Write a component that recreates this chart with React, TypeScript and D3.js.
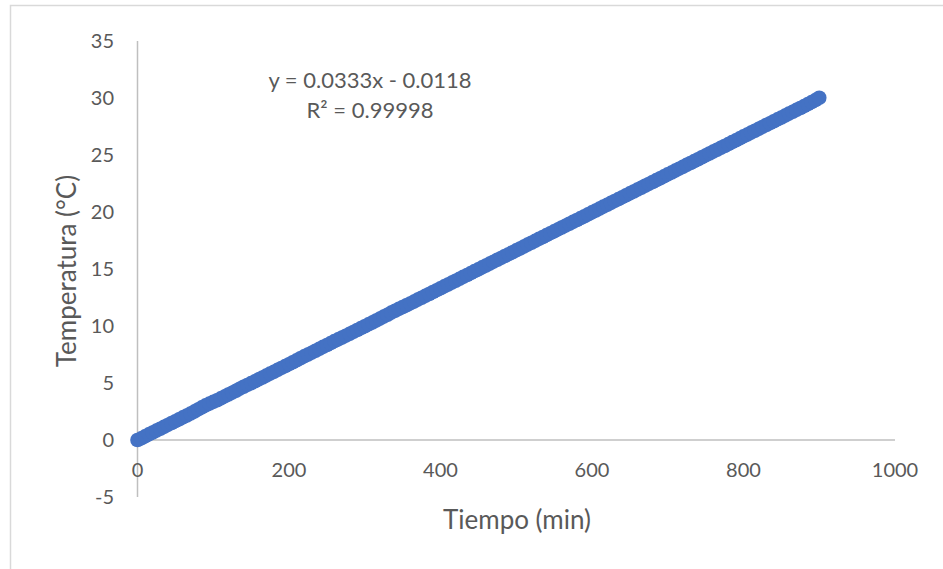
import React from "react";
import * as d3 from "d3";

const timeMin: number[] = d3.range(0, 901, 5);
const tempC: number[] = [
  0.0, 0.15, 0.32, 0.49, 0.66, 0.82, 0.99, 1.15, 1.32, 1.49, 1.65, 1.82, 1.99, 2.15, 2.32, 2.49, 2.68, 2.86, 3.04, 3.19,
  3.34, 3.49, 3.65, 3.82, 3.99, 4.15, 4.32, 4.5, 4.67, 4.83, 4.99, 5.15, 5.32, 5.48, 5.65, 5.82, 5.98, 6.15, 6.32, 6.48,
  6.65, 6.82, 6.99, 7.17, 7.34, 7.5, 7.66, 7.83, 8.0, 8.17, 8.33, 8.5, 8.67, 8.83, 8.99, 9.15, 9.31, 9.48, 9.65, 9.81,
  9.98, 10.15, 10.31, 10.48, 10.65, 10.82, 10.99, 11.17, 11.34, 11.5, 11.66, 11.82, 11.98, 12.14, 12.31, 12.48, 12.64, 12.81, 12.98, 13.14,
  13.31, 13.48, 13.64, 13.81, 13.97, 14.14, 14.31, 14.47, 14.64, 14.81, 14.97, 15.14, 15.31, 15.47, 15.64, 15.81, 15.97, 16.14, 16.3, 16.47,
  16.64, 16.8, 16.97, 17.14, 17.3, 17.47, 17.64, 17.8, 17.97, 18.14, 18.3, 18.47, 18.64, 18.8, 18.97, 19.13, 19.3, 19.47, 19.63, 19.8,
  19.97, 20.13, 20.3, 20.47, 20.63, 20.8, 20.97, 21.13, 21.3, 21.47, 21.63, 21.8, 21.97, 22.13, 22.3, 22.46, 22.63, 22.8, 22.96, 23.13,
  23.3, 23.46, 23.63, 23.8, 23.96, 24.13, 24.3, 24.46, 24.63, 24.8, 24.96, 25.13, 25.3, 25.46, 25.63, 25.79, 25.96, 26.13, 26.29, 26.46,
  26.63, 26.79, 26.96, 27.13, 27.29, 27.46, 27.63, 27.79, 27.96, 28.13, 28.29, 28.46, 28.63, 28.79, 28.96, 29.12, 29.29, 29.46, 29.64, 29.82,
  30.02,
];
const xTicks: number[] = [0, 200, 400, 600, 800, 1000];
const yTicks: number[] = [-5, 0, 5, 10, 15, 20, 25, 30, 35];
const xTitle = "Tiempo (min)";
const yTitle = "Temperatura (°C)";
const eqLine1 = "y = 0.0333x - 0.0118";
const eqLine2 = "R² = 0.99998";

export default function App() {
  const W = 943;
  const H = 569;
  const x = d3.scaleLinear().domain([0, 1000]).range([137.5, 895]);
  const y = d3.scaleLinear().domain([-5, 35]).range([497, 41]);
  const font = "Lato, 'Open Sans', sans-serif";
  const txt = "#595959";
  const axisCol = "#BFBFBF";
  const pts = timeMin.map((t, i) => [t, tempC[i]] as [number, number]);
  return (
    <svg width={W} height={H} style={{ position: "absolute", left: 0, top: 0, background: "#fff" }}>
      <rect x={10.5} y={5.5} width={W} height={H} fill="#fff" stroke="#D9D9D9" strokeWidth={1.5} />
      {/* axes */}
      <line x1={x(0)} x2={x(0)} y1={y(35)} y2={y(-5)} stroke={axisCol} strokeWidth={1.5} />
      <line x1={x(0)} x2={x(1000)} y1={y(0)} y2={y(0)} stroke={axisCol} strokeWidth={1.5} />
      {yTicks.map((v) => (
        <text key={"y" + v} x={114} y={y(v)} dy="0.35em" textAnchor="end" fontFamily={font} fontSize={20} fill={txt}>
          {v}
        </text>
      ))}
      {xTicks.map((v) => (
        <text key={"x" + v} x={x(v)} y={470} dy="0.35em" textAnchor="middle" fontFamily={font} fontSize={20} fill={txt}>
          {v}
        </text>
      ))}
      <text x={517} y={529} textAnchor="middle" fontFamily={font} fontSize={26} fill={txt}>
        {xTitle}
      </text>
      <text
        transform={`translate(76,${(y(35) + y(-5)) / 2 + 2}) rotate(-90)`}
        textAnchor="middle"
        fontFamily={font}
        fontSize={26}
        fill={txt}
      >
        {yTitle}
      </text>
      {/* data */}
      <g fill="#4472C4">
        {pts.map(([t, v], i) => (
          <circle key={i} cx={x(t)} cy={y(v)} r={7.3} />
        ))}
      </g>
      <text x={370} y={88} textAnchor="middle" fontFamily={font} fontSize={22} fill={txt}>
        {eqLine1}
      </text>
      <text x={370} y={118} textAnchor="middle" fontFamily={font} fontSize={22} fill={txt}>
        {eqLine2}
      </text>
    </svg>
  );
}
